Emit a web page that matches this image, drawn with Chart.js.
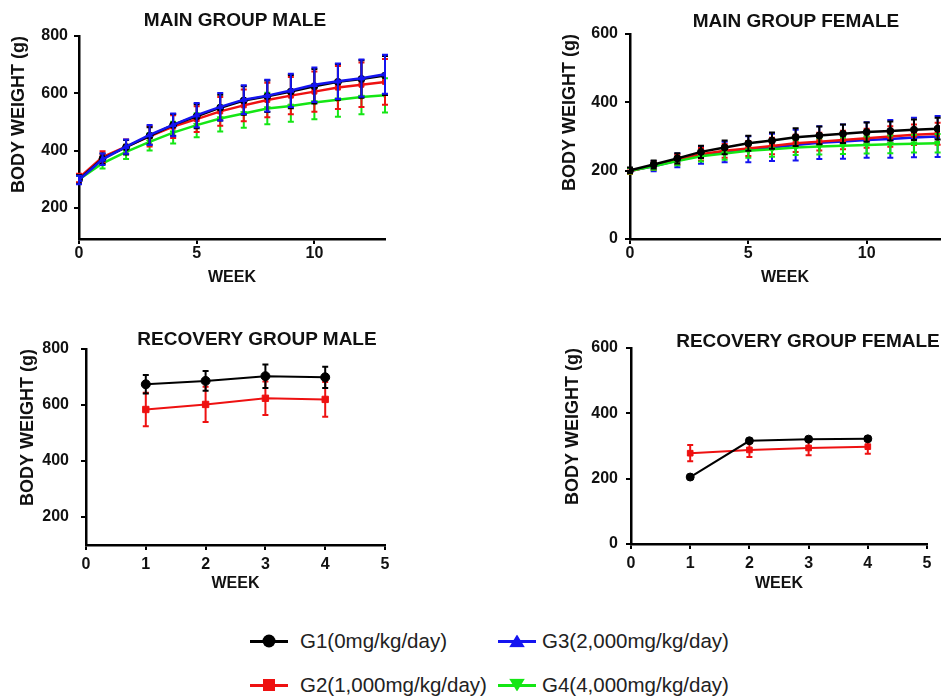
<!DOCTYPE html>
<html>
<head>
<meta charset="utf-8">
<script src="https://cdn.jsdelivr.net/npm/chart.js@4.4.1/dist/chart.umd.min.js"></script>
<style>
  body { margin: 0; background: #fff; }
  #page { position: relative; width: 945px; height: 699px; overflow: hidden; font-family: "Liberation Sans", Arial, sans-serif; color: #111; }
  canvas { position: absolute; }
  .ttl { position: absolute; font-weight: bold; font-size: 19px; white-space: nowrap; transform: translate(-50%, -50%); }
  .leg-line { position: absolute; height: 3px; width: 38px; }
  .leg-mark { position: absolute; }
  .leg-text { position: absolute; font-size: 20.5px; color: #222; white-space: nowrap; transform: translateY(-50%); }
</style>
</head>
<body>
<div id="page">
  <canvas id="c1" width="400" height="295" style="left:0;top:0"></canvas>
  <canvas id="c2" width="400" height="295" style="left:545px;top:0"></canvas>
  <canvas id="c3" width="400" height="280" style="left:0;top:320px"></canvas>
  <canvas id="c4" width="400" height="280" style="left:545px;top:320px"></canvas>
  <div class="ttl" style="left:235px;top:20px">MAIN GROUP MALE</div>
  <div class="ttl" style="left:796px;top:21px">MAIN GROUP FEMALE</div>
  <div class="ttl" style="left:257px;top:339px">RECOVERY GROUP MALE</div>
  <div class="ttl" style="left:808px;top:341px">RECOVERY GROUP FEMALE</div>
  <div id="legend"></div>
</div>
<script>
const FONT = '"Liberation Sans", Arial, sans-serif'

// weeks
const mainWeeks = [0, 1, 2, 3, 4, 5, 6, 7, 8, 9, 10, 11, 12, 13]
const recWeeks = [1, 2, 3, 4]

// main group male, mean / SD (g)
const maleG1 = [300, 372, 412, 452, 490, 520, 550, 575, 590, 606, 625, 640, 650, 662]
const maleG1Sd = [15, 18, 25, 30, 38, 42, 45, 50, 55, 58, 60, 62, 65, 68]
const maleG2 = [305, 378, 414, 450, 484, 510, 537, 558, 577, 592, 606, 620, 630, 640]
const maleG2Sd = [15, 20, 25, 35, 40, 45, 50, 55, 60, 65, 70, 75, 78, 80]
const maleG3 = [298, 370, 414, 455, 490, 524, 553, 578, 592, 610, 630, 642, 653, 667]
const maleG3Sd = [15, 20, 25, 35, 40, 42, 48, 50, 55, 58, 60, 62, 65, 68]
const maleG4 = [300, 356, 396, 431, 463, 489, 512, 530, 547, 556, 568, 578, 587, 593]
const maleG4Sd = [12, 18, 25, 30, 38, 42, 45, 50, 55, 55, 58, 60, 60, 60]

// main group female
const femG1 = [201, 218, 236, 255, 268, 280, 288, 298, 303, 308, 313, 316, 320, 323]
const femG1Sd = [8, 12, 15, 18, 20, 22, 24, 26, 26, 27, 28, 28, 30, 32]
const femG2 = [198, 215, 232, 248, 258, 265, 272, 280, 285, 290, 295, 300, 305, 308]
const femG2Sd = [8, 12, 15, 18, 20, 22, 24, 25, 26, 27, 28, 30, 30, 32]
const femG3 = [200, 213, 230, 245, 255, 263, 268, 275, 282, 285, 290, 293, 297, 300]
const femG3Sd = [8, 15, 20, 25, 30, 38, 40, 45, 48, 50, 52, 55, 58, 60]
const femG4 = [200, 213, 228, 242, 250, 258, 263, 268, 271, 273, 275, 277, 279, 280]
const femG4Sd = [8, 10, 12, 15, 18, 20, 22, 22, 24, 24, 25, 26, 26, 27]

// recovery groups
const recMaleG1 = [674, 686, 703, 699]
const recMaleG1Sd = [33, 35, 42, 38]
const recMaleG2 = [584, 602, 624, 620]
const recMaleG2Sd = [60, 63, 60, 62]
const recFemG1 = [205, 316, 321, 322]
const recFemG1Sd = [2, 4, 4, 5]
const recFemG2 = [278, 288, 294, 298]
const recFemG2Sd = [25, 22, 22, 22]

// tick labels
const xTicksMain = [0, 5, 10]
const xTicksRec = [0, 1, 2, 3, 4, 5]
const yTicksMale = [200, 400, 600, 800]
const yTicksFemale = [0, 200, 400, 600]

const groupLabels = ['G1(0mg/kg/day)', 'G2(1,000mg/kg/day)', 'G3(2,000mg/kg/day)', 'G4(4,000mg/kg/day)']
const groupColors = ['#000000', '#ee1111', '#1414f0', '#14e614']
const groupStyles = ['circle', 'rect', 'triangle', 'triangle']
const groupRot = [0, 0, 0, 180]

// error bars drawn under each line, using the chart's own scales
const errorBars = {
  id: 'errorBars',
  beforeDatasetDraw(chart, args) {
    const ds = chart.data.datasets[args.index]
    if (!ds.sd) return
    const {ctx, scales: {x, y}} = chart
    ctx.save()
    ctx.strokeStyle = ds.borderColor
    ctx.lineWidth = 2
    ds.data.forEach((p, i) => {
      const px = x.getPixelForValue(p.x)
      const top = y.getPixelForValue(p.y + ds.sd[i])
      const bot = y.getPixelForValue(p.y - ds.sd[i])
      ctx.beginPath()
      ctx.moveTo(px, top); ctx.lineTo(px, bot)
      ctx.moveTo(px - 3, top); ctx.lineTo(px + 3, top)
      ctx.moveTo(px - 3, bot); ctx.lineTo(px + 3, bot)
      ctx.stroke()
    })
    ctx.restore()
  }
}

function series(g, xs, ys, sd, order, radius, width) {
  return {
    label: groupLabels[g],
    data: xs.map((x, i) => ({x: x, y: ys[i]})),
    sd: sd,
    borderColor: groupColors[g],
    backgroundColor: groupColors[g],
    pointStyle: groupStyles[g],
    pointRotation: groupRot[g],
    pointRadius: radius,
    pointBorderWidth: 1,
    borderWidth: width,
    tension: 0,
    order: order
  }
}

function makeChart(id, c, datasets) {
  const tickFont = {family: FONT, weight: 'bold', size: 16}
  const titleFont = {family: FONT, weight: 'bold', size: 18}
  return new Chart(document.getElementById(id), {
    type: 'line',
    data: {datasets: datasets},
    plugins: [errorBars],
    options: {
      responsive: false,
      animation: false,
      devicePixelRatio: 1,
      layout: {padding: c.pad},
      plugins: {legend: {display: false}, tooltip: {enabled: false}, title: {display: false}},
      scales: {
        x: {
          type: 'linear', min: c.xMin, max: c.xMax,
          afterBuildTicks: s => { s.ticks = c.xTicks.map(v => ({value: v})) },
          afterFit: s => { s.height = c.xH },
          grid: {drawOnChartArea: false, color: '#000', lineWidth: 2, tickLength: 5},
          border: {color: '#000', width: 2.5},
          ticks: {color: '#111', font: tickFont, padding: c.xPad, maxRotation: 0, autoSkip: false},
          title: {display: true, text: 'WEEK', color: '#111', font: {family: FONT, weight: 'bold', size: 16}, padding: {top: 0, bottom: c.xTitlePad}}
        },
        y: {
          type: 'linear', min: c.yMin, max: c.yMax,
          afterBuildTicks: s => { s.ticks = c.yTicks.map(v => ({value: v})) },
          afterFit: s => { s.width = c.yW },
          grid: {drawOnChartArea: false, color: '#000', lineWidth: 2, tickLength: 5},
          border: {color: '#000', width: 2.5},
          ticks: {color: '#111', font: tickFont, padding: c.yPad},
          title: {display: true, text: 'BODY WEIGHT (g)', align: 'end', color: '#111', font: titleFont, padding: {top: c.yTitlePad, bottom: 0}}
        }
      }
    }
  })
}

makeChart('c1', {
  pad: {top: 36, right: 15, bottom: 0, left: 0}, xH: 56, yW: 79,
  xMin: 0, xMax: 13, xTicks: xTicksMain, yMin: 92, yMax: 800, yTicks: yTicksMale,
  xPad: 0, yPad: 6, xTitlePad: 8, yTitlePad: 8
}, [
  series(0, mainWeeks, maleG1, maleG1Sd, 1, 3.5, 2.5),
  series(1, mainWeeks, maleG2, maleG2Sd, 2, 3.5, 2.5),
  series(2, mainWeeks, maleG3, maleG3Sd, 0, 3.5, 2.5),
  series(3, mainWeeks, maleG4, maleG4Sd, 3, 3.5, 2.5)
])

makeChart('c2', {
  pad: {top: 34, right: 0, bottom: 0, left: 0}, xH: 56, yW: 85,
  xMin: 0, xMax: 13.1, xTicks: xTicksMain, yMin: 0, yMax: 600, yTicks: yTicksFemale,
  xPad: 0, yPad: 7, xTitlePad: 8, yTitlePad: 14
}, [
  series(0, mainWeeks, femG1, femG1Sd, 0, 3.5, 2.5),
  series(1, mainWeeks, femG2, femG2Sd, 2, 3.5, 2.5),
  series(2, mainWeeks, femG3, femG3Sd, 3, 3.5, 2.5),
  series(3, mainWeeks, femG4, femG4Sd, 1, 3.5, 2.5)
])

makeChart('c3', {
  pad: {top: 29, right: 15, bottom: 0, left: 0}, xH: 55, yW: 86,
  xMin: 0, xMax: 5, xTicks: xTicksRec, yMin: 100, yMax: 800, yTicks: yTicksMale,
  xPad: 5, yPad: 12, xTitlePad: 7, yTitlePad: 17
}, [
  series(0, recWeeks, recMaleG1, recMaleG1Sd, 0, 4.5, 2),
  series(1, recWeeks, recMaleG2, recMaleG2Sd, 1, 4.5, 2)
])

makeChart('c4', {
  pad: {top: 28, right: 18, bottom: 0, left: 0}, xH: 56, yW: 86,
  xMin: 0, xMax: 5, xTicks: xTicksRec, yMin: 0, yMax: 600, yTicks: yTicksFemale,
  xPad: 5, yPad: 8, xTitlePad: 7, yTitlePad: 17
}, [
  series(0, recWeeks, recFemG1, recFemG1Sd, 0, 4, 2),
  series(1, recWeeks, recFemG2, recFemG2Sd, 1, 4, 2)
])

// shared legend below the panels
const legendSpots = [[250, 641, 50], [250, 685, 50], [498, 641, 44], [498, 685, 44]]
const legend = document.getElementById('legend')
groupLabels.forEach((label, g) => {
  const [lx, ly, tx] = legendSpots[g]
  const line = document.createElement('div')
  line.className = 'leg-line'
  line.style.cssText = `left:${lx}px;top:${ly - 1.5}px;background:${groupColors[g]}`
  legend.appendChild(line)
  const mark = document.createElement('div')
  mark.className = 'leg-mark'
  let shape = ''
  if (groupStyles[g] === 'circle') shape = 'border-radius:50%;width:13px;height:13px;'
  else if (groupStyles[g] === 'rect') shape = 'width:12px;height:12px;'
  else if (groupRot[g] === 180) shape = 'width:16px;height:13px;clip-path:polygon(0 0,100% 0,50% 100%);'
  else shape = 'width:16px;height:13px;clip-path:polygon(50% 0,100% 100%,0 100%);'
  mark.style.cssText = shape + `background:${groupColors[g]};left:${lx + 19}px;top:${ly}px;transform:translate(-50%,-50%)`
  legend.appendChild(mark)
  const text = document.createElement('div')
  text.className = 'leg-text'
  text.style.cssText = `left:${lx + tx}px;top:${ly}px`
  text.textContent = label
  legend.appendChild(text)
})
</script>
</body>
</html>
